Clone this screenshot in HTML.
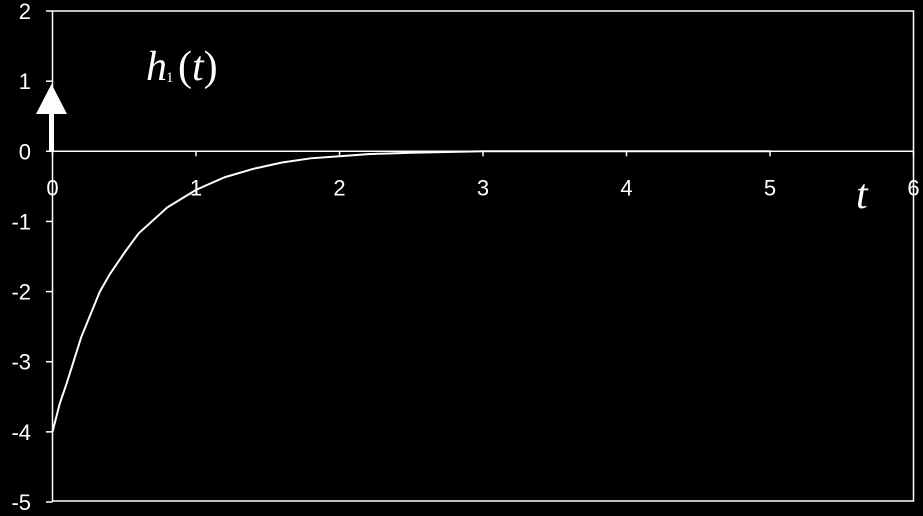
<!DOCTYPE html>
<html><head><meta charset="utf-8"><style>
html,body{margin:0;padding:0;background:#000;width:923px;height:516px;overflow:hidden}
svg{display:block}
text{font-family:"Liberation Sans",Arial,sans-serif;fill:#fff}
</style></head><body>
<svg id="chart" width="923" height="516" viewBox="0 0 923 516">
<rect x="52.5" y="11" width="861" height="490" fill="none" stroke="#fff" stroke-width="1.5"/>
<g id="axes"></g>
<g id="series"></g>
<g>
<rect x="49" y="112" width="5" height="40" fill="#fff"/>
<polygon points="36,114 67,114 51.5,84" fill="#fff"/>
</g>
<text x="146" y="80" font-style="italic" font-size="42" style="font-family:'Liberation Serif',serif">h</text>
<text x="166" y="82" font-size="15" style="font-family:'Liberation Serif',serif">1</text>
<text x="178" y="80" font-size="42" style="font-family:'Liberation Serif',serif">(<tspan font-style="italic">t</tspan>)</text>
<text x="856" y="208" font-size="42" font-style="italic" style="font-family:'Liberation Serif',serif">t</text>
</svg>
<script>
const xTicks=[0,1,2,3,4,5,6];
const yTicks=[2,1,0,-1,-2,-3,-4,-5];
const tVals=[0,0.05,0.1,0.2,0.33,0.4,0.5,0.6,0.8,1,1.2,1.4,1.6,1.8,2,2.2,2.5,3,4,5];
const hVals=[-4,-3.6,-3.3,-2.65,-2,-1.75,-1.45,-1.17,-0.8,-0.55,-0.37,-0.25,-0.16,-0.1,-0.07,-0.04,-0.02,0,0,0];
const NS="http://www.w3.org/2000/svg";
const X=v=>52.5+v*143.5;
const Y=v=>151.3-v*70.14;
const ax=document.getElementById('axes'),se=document.getElementById('series');
function mk(tag,attrs,parent){const e=document.createElementNS(NS,tag);for(const k in attrs)e.setAttribute(k,attrs[k]);parent.appendChild(e);return e;}
const zl=mk('line',{x1:52.5,x2:913.5,y1:Y(0),y2:Y(0),stroke:'#fff','stroke-width':1.5},ax);


yTicks.forEach(v=>{
 const l=mk('line',{x1:46,x2:52.5,y1:Y(v),y2:Y(v),stroke:'#fff','stroke-width':1.5},ax);
 
 
 const t=mk('text',{x:31,y:Y(v)+8,'text-anchor':'end','font-size':22},ax);
 t.textContent=v;
 
 
});
xTicks.forEach(v=>{
 const l=mk('line',{x1:X(v),x2:X(v),y1:Y(0),y2:Y(0)+5,stroke:'#fff','stroke-width':1.5},ax);
 
 
 const t=mk('text',{x:X(v),y:Y(0)+44,'text-anchor':'middle','font-size':22},ax);
 t.textContent=v;
 
 
});
const p=mk('polyline',{points:tVals.map((t,i)=>X(t)+','+Y(hVals[i])).join(' '),fill:'none',stroke:'#fff','stroke-width':2},se);


</script>
</body></html>
